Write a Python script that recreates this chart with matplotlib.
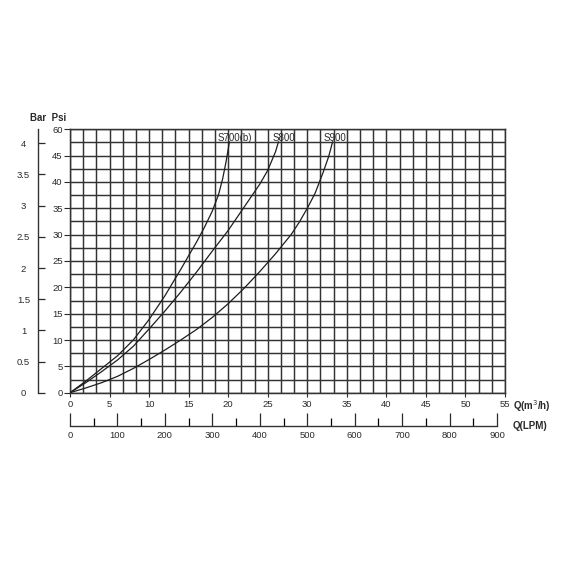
import matplotlib
matplotlib.use("Agg")
import matplotlib.pyplot as plt
from matplotlib.ticker import MultipleLocator, FixedLocator

plt.rcParams['font.family'] = ['Liberation Sans', 'DejaVu Sans']

# ---- data ----
s700_q = [0, 2, 4, 6, 8, 10, 12, 14, 16, 17, 18, 18.8, 19.3, 19.7, 20.0, 20.15]
s700_p = [0, 2.2, 4.6, 7.0, 10.0, 13.9, 18.4, 23.4, 28.6, 31.4, 34.5, 37.7, 40.6, 43.6, 46.2, 47.6]

s800_q = [0, 2, 4, 6, 8, 10, 12, 14, 16, 18, 20, 22, 24, 25, 26, 26.35]
s800_p = [0, 1.9, 4.0, 6.2, 8.8, 12.1, 15.5, 19.1, 22.9, 26.9, 30.8, 35.2, 39.6, 42.2, 45.8, 47.6]

s900_q = [0, 2, 4, 6, 8, 10, 12, 14, 16, 18, 20, 22, 24, 26, 28, 29, 30, 31, 32, 32.7, 33.2]
s900_p = [0, 0.9, 1.9, 3.1, 4.6, 6.3, 8.1, 10.0, 12.0, 14.3, 16.9, 19.8, 23.0, 26.4, 30.1,
          32.4, 35.0, 37.9, 41.8, 44.8, 47.6]

curve_names = ["S700(b)", "S800", "S900"]
label_q = [18.7, 25.6, 32.1]
label_p = [48.3, 48.3, 48.3]

q_ticks = [0, 5, 10, 15, 20, 25, 30, 35, 40, 45, 50, 55]
psi_ticks = [0, 5, 10, 15, 20, 25, 30, 35, 40, 45, 50]
psi_labels = ["0", "5", "10", "15", "20", "25", "30", "35", "40", "45", "60"]
bar_ticks = [0, 0.5, 1, 1.5, 2, 2.5, 3, 3.5, 4]
bar_labels = ["0", "0.5", "1", "1.5", "2", "2.5", "3", "3.5", "4"]
lpm_ticks = [0, 100, 200, 300, 400, 500, 600, 700, 800, 900]
lpm_minor = [50, 150, 250, 350, 450, 550, 650, 750, 850]

# ---- figure ----
W = 570.0
fig = plt.figure(figsize=(5.7, 5.7), dpi=100)
fig.patch.set_facecolor("white")

ink = "#2a2a2a"
left, right = 70 / W, 505 / W
bottom, top = 1 - 392.7 / W, 1 - 129.3 / W
ax = fig.add_axes([left, bottom, right - left, top - bottom])
ax.set_xlim(0, 55)
ax.set_ylim(0, 50)

ax.xaxis.set_major_locator(FixedLocator(q_ticks))
ax.xaxis.set_minor_locator(MultipleLocator(55 / 33))
ax.yaxis.set_major_locator(FixedLocator(psi_ticks))
ax.yaxis.set_minor_locator(MultipleLocator(2.5))
ax.set_yticklabels(psi_labels)
ax.grid(True, which="both", color="#333333", linewidth=1.05)
ax.set_axisbelow(True)
for s in ax.spines.values():
    s.set_color("#333333")
    s.set_linewidth(1.05)
ax.tick_params(axis="x", which="major", direction="out", length=3, width=0.8,
               pad=2.5, labelsize=6.8, colors=ink)
ax.tick_params(axis="y", which="major", direction="out", length=4.5, width=0.8,
               pad=0.8, labelsize=6.8, colors=ink)
ax.tick_params(which="minor", length=0)

for q, p in [(s700_q, s700_p), (s800_q, s800_p), (s900_q, s900_p)]:
    ax.plot(q, p, color="#1e1e1e", linewidth=0.9, zorder=3,
            solid_joinstyle="round")
for name, lq, lp in zip(curve_names, label_q, label_p):
    ax.text(lq, lp, name, fontsize=7, color=ink, ha="left", va="center",
            zorder=4)

# ---- bar axis ----
axb = fig.add_axes([38 / W, bottom, 0.001, top - bottom])
axb.patch.set_visible(False)
axb.set_ylim(0, (392.7 - 129.3) / 62.35)
axb.set_xticks([])
for k in ["top", "right", "bottom"]:
    axb.spines[k].set_visible(False)
axb.spines["left"].set_color("#333333")
axb.spines["left"].set_linewidth(1.0)
axb.set_yticks(bar_ticks)
axb.set_yticklabels(bar_labels)
axb.tick_params(axis="y", direction="in", length=5, width=0.9, pad=10.5,
                labelsize=6.8, colors=ink)
for t in axb.get_yticklabels():
    t.set_horizontalalignment("center")

# ---- LPM axis ----
axl = fig.add_axes([left, 1 - 426 / W, right - left, 0.001])
axl.patch.set_visible(False)
axl.set_xlim(0, 55 * 1000 / 60)
axl.set_yticks([])
for k in ["top", "right", "left"]:
    axl.spines[k].set_visible(False)
axl.spines["bottom"].set_bounds(0, 900)
axl.spines["bottom"].set_color("#333333")
axl.spines["bottom"].set_linewidth(1.0)
axl.set_xticks(lpm_ticks)
axl.set_xticks(lpm_minor, minor=True)
axl.tick_params(axis="x", which="major", direction="in", length=9.5, width=0.9,
                pad=3.5, labelsize=6.8, colors=ink)
axl.tick_params(axis="x", which="minor", direction="in", length=5.5, width=0.9)

# ---- axis names ----
fig.text(30 / W, 1 - 118 / W, "Bar  Psi", fontsize=7, fontweight="bold",
         color=ink, ha="left", va="center")
fig.text(513 / W, 1 - 405.7 / W, "Q(m$^3$/h)", fontsize=7, fontweight="bold",
         color=ink, ha="left", va="center")
fig.text(513 / W, 1 - 425.7 / W, "Q(LPM)", fontsize=7, fontweight="bold",
         color=ink, ha="left", va="center")

fig.savefig("out.png", dpi=100, facecolor="white")
